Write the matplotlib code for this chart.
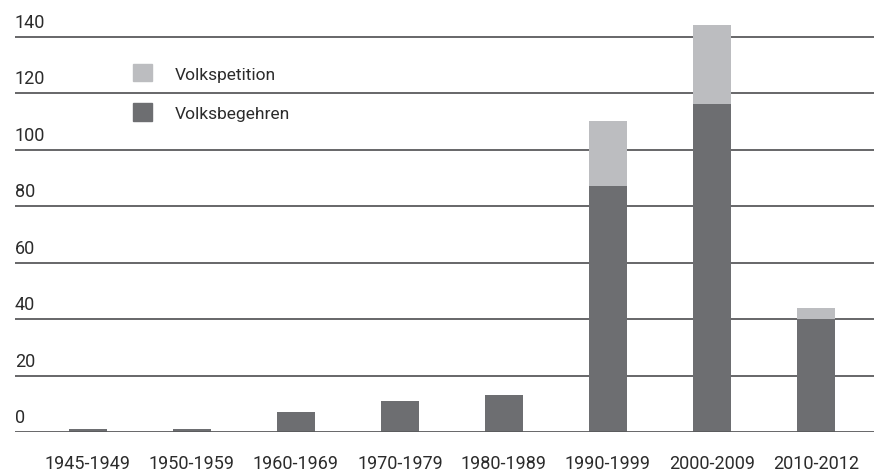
import matplotlib.pyplot as plt
from matplotlib.patches import Patch

plt.rcParams['font.family'] = ['Roboto', 'DejaVu Sans']

# data
periods = ["1945-1949", "1950-1959", "1960-1969", "1970-1979",
           "1980-1989", "1990-1999", "2000-2009", "2010-2012"]
volksbegehren = [1, 1, 7, 11, 13, 87, 116, 40]
volkspetition = [0, 0, 0, 0, 0, 23, 28, 4]
yticks = [0, 20, 40, 60, 80, 100, 120, 140]

dark = '#6d6e71'
light = '#bcbdc0'
grid_col = '#5a5b5d'
text_col = '#2b2b2b'

fig = plt.figure(figsize=(8.74, 4.77), dpi=100)
ax = fig.add_axes([15/874, 44/477, 859/874, 423.75/477])

x = list(range(len(periods)))
ax.bar(x, volksbegehren, width=0.365, color=dark, zorder=2, label='Volksbegehren')
ax.bar(x, volkspetition, width=0.365, bottom=volksbegehren, color=light, zorder=2,
       label='Volkspetition')

for y in yticks:
    ax.axhline(y, color=grid_col, lw=1.3, zorder=1 if y else 3)
    ax.annotate(str(y), xy=(0, y), xycoords=('axes fraction', 'data'),
                xytext=(0, 7), textcoords='offset points',
                ha='left', va='baseline', fontsize=13, color=text_col)

ax.set_xlim(-0.702, 7.56)
ax.set_ylim(0, 150)
ax.set_yticks([])
ax.set_xticks(x)
ax.set_xticklabels(periods, fontsize=13, color=text_col)
ax.tick_params(axis='x', length=0, pad=16)
for s in ax.spines.values():
    s.set_visible(False)

handles = [Patch(color=light, label='Volkspetition'),
           Patch(color=dark, label='Volksbegehren')]
ax.legend(handles=handles, loc='upper left', bbox_to_anchor=(0.137, 0.868),
          borderaxespad=0, borderpad=0,
          frameon=False, fontsize=12.5, handlelength=1.1, handleheight=1.15,
          handletextpad=1.3, labelspacing=1.25, labelcolor=text_col)

fig.savefig('out.png', dpi=100)
